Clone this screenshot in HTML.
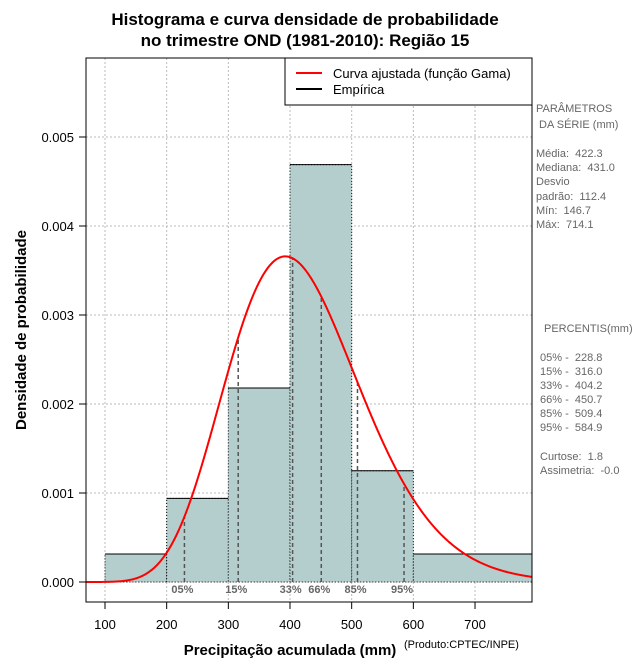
<!DOCTYPE html>
<html><head><meta charset="utf-8"><style>
body{margin:0;background:#fff;font-family:"Liberation Sans",sans-serif}
.pre text{white-space:pre}
</style></head><body>
<svg width="640" height="660" xmlns="http://www.w3.org/2000/svg" font-family="Liberation Sans, sans-serif">
<text x="305" y="25" text-anchor="middle" font-size="17" font-weight="bold">Histograma e curva densidade de probabilidade</text>
<text x="305" y="46" text-anchor="middle" font-size="17" font-weight="bold">no trimestre OND (1981-2010): Região 15</text>
<g id="grid"></g>
<g id="bars"></g>
<g id="pct"></g>
<path id="curve" fill="none" stroke="#ff0000" stroke-width="2"/>
<rect x="86" y="58" width="446" height="544" fill="none" stroke="#000"/>
<g id="axes"></g>
<text x="290" y="655" text-anchor="middle" font-size="15" font-weight="bold">Precipitação acumulada (mm)</text>
<text x="404" y="648" font-size="11">(Produto:CPTEC/INPE)</text>
<text transform="translate(26,330) rotate(-90)" text-anchor="middle" font-size="15" font-weight="bold">Densidade de probabilidade</text>
<g>
<rect x="285" y="58" width="247" height="47" fill="#fff" stroke="#000"/>
<line x1="296" y1="73" x2="322" y2="73" stroke="#ff0000" stroke-width="2"/>
<text x="333" y="78" font-size="13">Curva ajustada (função Gama)</text>
<line x1="296" y1="89" x2="322" y2="89" stroke="#000" stroke-width="2"/>
<text x="333" y="94" font-size="13">Empírica</text>
</g>
<g class="pre" font-size="11" fill="#666">
<text x="536" y="112">PARÂMETROS</text><text x="539" y="128">DA SÉRIE (mm)</text>
<text x="536" y="157">Média:  422.3</text><text x="536" y="171">Mediana:  431.0</text>
<text x="536" y="185">Desvio</text><text x="536" y="200">padrão:  112.4</text>
<text x="536" y="214">Mín:  146.7</text><text x="536" y="228">Máx:  714.1</text>
<text x="544" y="332">PERCENTIS(mm)</text>
<text x="540" y="361">05% -  228.8</text><text x="540" y="375">15% -  316.0</text>
<text x="540" y="389">33% -  404.2</text><text x="540" y="403">66% -  450.7</text>
<text x="540" y="417">85% -  509.4</text><text x="540" y="431">95% -  584.9</text>
<text x="540" y="460">Curtose:  1.8</text><text x="540" y="474">Assimetria:  -0.0</text>
</g>
</svg>
<script>
const binEdges=[100,200,300,400,500,600,800];
const binDensity=[0.000315,0.00094,0.00218,0.00469,0.00125,0.000315];
const xTicks=[100,200,300,400,500,600,700];
const yTicks=[0,0.001,0.002,0.003,0.004,0.005];
const yTickLabels=["0.000","0.001","0.002","0.003","0.004","0.005"];
const pctValues=[228.8,316.0,404.2,450.7,509.4,584.9];
const pctLabels=["05%","15%","33%","66%","85%","95%"];
const gammaMean=422.3, gammaSd=112.4;
const NS="http://www.w3.org/2000/svg";
const X=v=>105+(v-100)*0.6167, Y=d=>582-d*89000;
function mk(t,a,p){const e=document.createElementNS(NS,t);for(const k in a)e.setAttribute(k,a[k]);p.appendChild(e);return e;}
function lg(z){const g=[676.5203681218851,-1259.1392167224028,771.32342877765313,-176.61502916214059,12.507343278686905,-0.13857109526572012,9.9843695780195716e-6,1.5056327351493116e-7];z-=1;let x=0.99999999999980993;for(let i=0;i<8;i++)x+=g[i]/(z+i+1);const t=z+7.5;return 0.5*Math.log(2*Math.PI)+(z+0.5)*Math.log(t)-t+Math.log(x);}
const k=(gammaMean/gammaSd)**2, th=gammaSd*gammaSd/gammaMean;
const pdf=x=>x<=0?0:Math.exp((k-1)*Math.log(x)-x/th-lg(k)-k*Math.log(th));
const grid=document.getElementById('grid'),bars=document.getElementById('bars'),axes=document.getElementById('axes'),pct=document.getElementById('pct');
xTicks.forEach(v=>{const l=mk('line',{x1:X(v),x2:X(v),y1:58,y2:602,stroke:'#bbb','stroke-dasharray':'2,2'},grid);

const t=mk('line',{x1:X(v),x2:X(v),y1:602,y2:609,stroke:'#000'},axes);

const s=mk('text',{x:X(v),y:629,'text-anchor':'middle','font-size':13},axes);s.textContent=v;
});
yTicks.forEach((v,i)=>{const l=mk('line',{x1:86,x2:532,y1:Y(v),y2:Y(v),stroke:'#bbb','stroke-dasharray':'2,2'},grid);

const t=mk('line',{x1:79,x2:86,y1:Y(v),y2:Y(v),stroke:'#000'},axes);

const s=mk('text',{x:74,y:Y(v)+5,'text-anchor':'end','font-size':13},axes);s.textContent=yTickLabels[i];
});
binDensity.forEach((d,i)=>{const x0=X(binEdges[i]),x1=Math.min(X(binEdges[i+1]),532);
const r=mk('rect',{x:x0,y:Y(d),width:x1-x0,height:Y(0)-Y(d),fill:'#b4cece',stroke:'#000','stroke-dasharray':'1,2','stroke-width':1},bars);

const tl=mk('line',{x1:x0,x2:x1,y1:Y(d),y2:Y(d),stroke:'#000'},bars);
});
pctValues.forEach((v,i)=>{const l=mk('line',{x1:X(v),x2:X(v),y1:Y(0),y2:Y(pdf(v)),stroke:'#555','stroke-dasharray':'4,3','stroke-width':1.5},pct);

const t=mk('text',{x:X(v)-13,y:593,'font-size':11,'font-weight':'bold',fill:'#666'},pct);t.textContent=pctLabels[i];
});
let d='';for(let px=86;px<=532;px++){const v=100+(px-105)/0.6167;d+=(px==86?'M':'L')+px+','+Y(pdf(v)).toFixed(2);}
document.getElementById('curve').setAttribute('d',d);
</script>
</body></html>
